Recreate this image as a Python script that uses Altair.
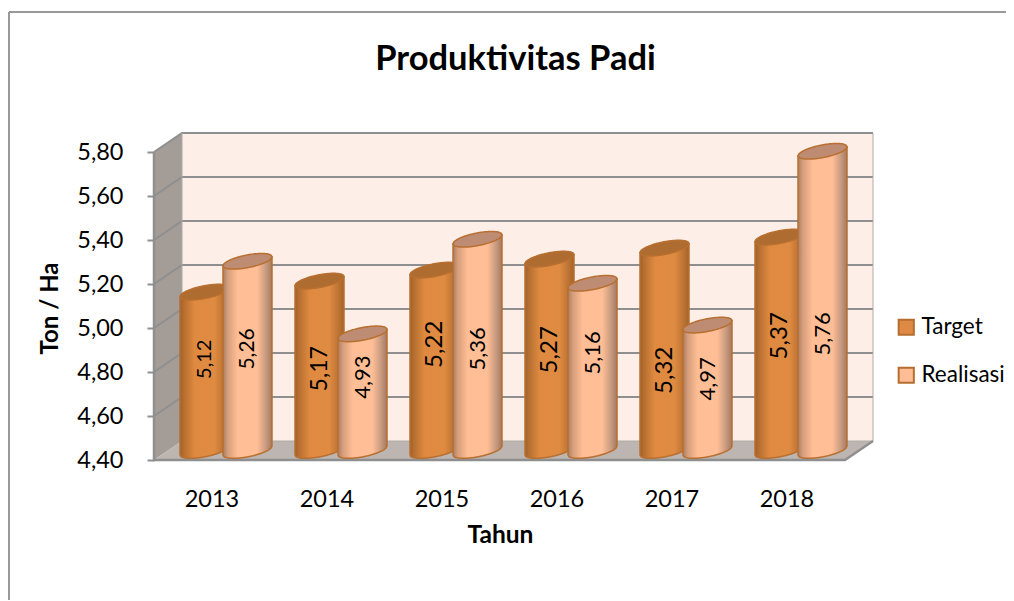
import altair as alt
import numpy as np
import pandas as pd

years = ["2013", "2014", "2015", "2016", "2017", "2018"]
target = [5.12, 5.17, 5.22, 5.27, 5.32, 5.37]
realisasi = [5.26, 4.93, 5.36, 5.16, 4.97, 5.76]
ticks = [4.4, 4.6, 4.8, 5.0, 5.2, 5.4, 5.6, 5.8]

# layout (pixels of the 3-D scene)
CAT_PX, VAL_PX = 115.0, 220.0
W, H = 719, 328
DEPTH_X, DEPTH_Y = 28.0, 19.0
BASE = 4.4
RX, RY, TILT, MID = 24.5, 6.4, 4.5, 9.5
CENTERS = {"Target": 50.5, "Realisasi": 93.5}
label_nudge = {"Target": [12, -3, 16, 5, -21, 8], "Realisasi": [7, 15, -4, 14, 9, -33]}
label_size = {"Target": [20, 23, 24, 24, 24, 24], "Realisasi": [21, 22, 22, 22, 22, 22]}

x_scale = alt.Scale(domain=[0, W / CAT_PX], nice=False, zero=False)
y_scale = alt.Scale(domain=[BASE, BASE + H / VAL_PX], nice=False, zero=False)
FONT = "Lato"

def X(f="x", **kw):
    return alt.X(f"{f}:Q", scale=x_scale, **kw)

def Y(f="y", **kw):
    return alt.Y(f"{f}:Q", scale=y_scale, **kw)

def grad(stops):
    return alt.LinearGradient(gradient="linear", x1=0, x2=1, y1=0, y2=0,
                              stops=[alt.GradientStop(color=c, offset=o) for o, c in stops])

us = np.linspace(-1, 1, 61)
body_rows, cap_rows, label_rows = [], [], []
for name, vals in (("Target", target), ("Realisasi", realisasi)):
    for i, v in enumerate(vals):
        cx = i * CAT_PX + CENTERS[name]
        for u in us:
            s = np.sqrt(max(0.0, 1 - u * u))
            lift = MID + TILT * u
            x = (cx + RX * u) / CAT_PX
            body_rows.append(dict(s=name, i=i, x=x, y=v + lift / VAL_PX,
                                  y2=BASE + (lift - RY * s) / VAL_PX))
            cap_rows.append(dict(s=name, i=i, x=x, y=v + (lift + RY * s) / VAL_PX,
                                 y2=v + (lift - RY * s) / VAL_PX))
        mid = (v + BASE) / 2 + (MID + label_nudge[name][i]) / VAL_PX
        label_rows.append(dict(s=name, x=cx / CAT_PX, y=mid,
                               t=f"{v:.2f}".replace(".", ","), fs=label_size[name][i]))
body = pd.DataFrame(body_rows)
caps = pd.DataFrame(cap_rows)
labels = pd.DataFrame(label_rows)

dxd, dyd = DEPTH_X / CAT_PX, DEPTH_Y / VAL_PX
top_v, right = ticks[-1], W / CAT_PX
front_r = right - dxd

back = alt.Chart(pd.DataFrame(dict(x=[dxd], x2=[right], y=[BASE + dyd], y2=[top_v + dyd]))).mark_rect(
    color="#FDEFE8").encode(x=X(), x2="x2:Q", y=Y(), y2="y2:Q")
left_wall = alt.Chart(pd.DataFrame(dict(x=[0, dxd], y=[top_v, top_v + dyd], y2=[BASE, BASE + dyd]))).mark_area(
    color="#A39C97", orient="vertical").encode(x=X(), y=Y(stack=None), y2="y2:Q")
floor = alt.Chart(pd.DataFrame(dict(x=[0, dxd, front_r, right],
                                    y=[BASE, BASE + dyd, BASE + dyd, BASE + dyd],
                                    y2=[BASE, BASE, BASE, BASE + dyd]))).mark_area(
    color="#BDB5B1", orient="vertical").encode(x=X(), y=Y(stack=None), y2="y2:Q")

grid_rows = []
for v in ticks[1:]:
    grid_rows += [dict(v=v, o=0, x=0, y=v), dict(v=v, o=1, x=dxd, y=v + dyd), dict(v=v, o=2, x=right, y=v + dyd)]
grid = alt.Chart(pd.DataFrame(grid_rows)).mark_line(color="#8F8F8F", strokeWidth=2).encode(
    x=X(), y=Y(), detail="v:Q", order="o:Q")

edge_rows = [dict(g="wall", o=0, x=0, y=top_v), dict(g="wall", o=1, x=0, y=BASE),
             dict(g="wall", o=2, x=front_r, y=BASE), dict(g="wall", o=3, x=right, y=BASE + dyd),
             ]
edges = alt.Chart(pd.DataFrame(edge_rows)).mark_line(color="#8F8F8F", strokeWidth=2.5).encode(
    x=X(), y=Y(), detail="g:N", order="o:Q")
back_inner = alt.Chart(pd.DataFrame(dict(x=[dxd, dxd, right, right],
                                         y=[top_v + dyd, BASE + dyd, BASE + dyd, top_v + dyd],
                                         o=[0, 1, 2, 3]))).mark_line(color="#AFAAA6", strokeWidth=1).encode(
    x=X(), y=Y(), order="o:Q")

GR = {
    "Target": grad([(0, "#A0602A"), (0.08, "#B56F30"), (0.3, "#DF8A40"), (0.7, "#E08B42"), (0.9, "#BA7232"), (1, "#A4622A")]),
    "Realisasi": grad([(0, "#AA7E62"), (0.1, "#D69E7C"), (0.3, "#FFBE95"), (0.7, "#FFBE95"), (0.88, "#C79A80"), (1, "#A47A60")]),
}
CAP = {"Target": "#AE6C30", "Realisasi": "#BE8C72"}

def cyl(name):
    b = alt.Chart(body[body.s == name]).mark_area(
        fill=GR[name], stroke="#B86F30", strokeWidth=1.5, orient="vertical"
    ).encode(x=X(), y=Y(stack=None), y2="y2:Q", detail="i:N")
    c = alt.Chart(caps[caps.s == name]).mark_area(
        fill=CAP[name], stroke="#B86F30", strokeWidth=1.5, orient="vertical"
    ).encode(x=X(), y=Y(stack=None), y2="y2:Q", detail="i:N")
    return [b, c]

text = alt.Chart(labels).mark_text(angle=270, font=FONT, color="black", baseline="middle", align="center").encode(
    x=X(), y=Y(), text="t:N", size=alt.Size("fs:Q", scale=None, legend=None))

axes = alt.Chart(pd.DataFrame(dict(x=[0.0], y=[BASE]))).mark_point(opacity=0).encode(
    x=alt.X("x:Q", scale=x_scale, axis=alt.Axis(
        title="Tahun", titleFont=FONT, titleFontSize=24.5, titleFontWeight="bold", titleX=346, titleY=75,
        titleBaseline="middle", titleColor="black",
        values=[i + 0.5 for i in range(len(years))],
        labelExpr="format(2012.5 + datum.value, 'd')",
        labelFont=FONT, labelFontSize=23.5, labelColor="black", labelPadding=27,
        ticks=False, domain=False, grid=False, labelFlush=False)),
    y=alt.Y("y:Q", scale=y_scale, axis=alt.Axis(
        title="Ton / Ha", titleFont=FONT, titleFontSize=24, titleFontWeight="bold", titleX=-104, titleY=176,
        titleColor="black", titleBaseline="middle",
        values=ticks, labelExpr="replace(format(datum.value, '.2f'), '.', ',')",
        labelFont=FONT, labelFontSize=23.5, labelColor="black", labelPadding=24,
        tickColor="#8F8F8F", tickSize=7, tickWidth=2, domain=False, grid=False)),
)

series = ["Target", "Realisasi"]
legend_src = alt.Chart(pd.DataFrame(dict(s=series, x=[1.0, 2.0], y=[4.5, 4.5]))).mark_square(opacity=0, size=1).encode(
    x=X(), y=Y(),
    fill=alt.Fill("s:N", scale=alt.Scale(domain=series, range=["#DE8A45", "#FFBD96"]),
                  legend=alt.Legend(title=None, orient="none", legendX=741, legendY=184,
                                    symbolType="square", symbolSize=230, symbolOpacity=1,
                                    symbolStrokeColor="#B56D30", symbolStrokeWidth=2,
                                    labelFont=FONT, labelFontSize=22.5, labelColor="black",
                                    rowPadding=24, labelOffset=4, padding=0)),
)

frame = alt.Chart(pd.DataFrame(dict(a=[0]))).mark_rule(color="#999999", strokeWidth=2)
frame_top = frame.encode(x=alt.value(-145), x2=alt.value(860), y=alt.value(-120))
frame_left = frame.encode(x=alt.value(-145), y=alt.value(-120), y2=alt.value(480))

chart = alt.layer(
    axes, frame_top, frame_left, back, left_wall, floor, grid, back_inner, edges,
    *cyl("Target"), *cyl("Realisasi"), text, legend_src,
).properties(
    width=W, height=H,
    padding={"left": 146, "top": 124, "right": 133, "bottom": 140},
    autosize=alt.AutoSizeParams(type="none"),
    title=alt.TitleParams("Produktivitas Padi", font=FONT, fontSize=34.5, fontWeight="bold", color="black",
                          anchor="middle", dx=2, offset=0, dy=66),
).configure_view(stroke=None)

chart.save("out.html", embed_options={"renderer": "svg", "actions": False})
